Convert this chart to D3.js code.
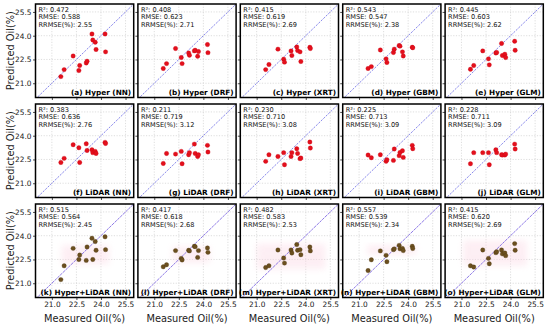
<!DOCTYPE html>
<html><head><meta charset="utf-8">
<script src="https://cdn.jsdelivr.net/npm/d3@7"></script>
<style>html,body{margin:0;padding:0;background:#fff;}svg{display:block;font-family:"DejaVu Sans",sans-serif;}</style>
</head><body><svg id="chart" width="550" height="327"></svg>
<script>
// ---- data ----
const measured = [21.55, 21.75, 22.3, 22.65, 22.7, 23.1, 23.15, 23.45, 23.5, 23.65, 23.7, 24.25, 24.28];
const titles = ["(a) Hyper (NN)","(b) Hyper (DRF)","(c) Hyper (XRT)","(d) Hyper (GBM)","(e) Hyper (GLM)",
  "(f) LiDAR (NN)","(g) LiDAR (DRF)","(h) LiDAR (XRT)","(i) LiDAR (GBM)","(j) LiDAR (GLM)",
  "(k) Hyper+LiDAR (NN)","(l) Hyper+LiDAR (DRF)","(m) Hyper+LiDAR (XRT)","(n) Hyper+LiDAR (GBM)","(o) Hyper+LiDAR (GLM)"];
const r2 = ["0.472","0.408","0.415","0.543","0.445","0.383","0.211","0.230","0.225","0.228","0.515","0.417","0.482","0.557","0.415"];
const rmse = ["0.588","0.623","0.619","0.547","0.603","0.636","0.719","0.710","0.713","0.711","0.564","0.618","0.583","0.539","0.620"];
const rrmse = ["2.55","2.71","2.69","2.38","2.62","2.76","3.12","3.08","3.09","3.09","2.45","2.68","2.53","2.34","2.69"];
const predHyperNN   = [21.42,21.86,22.72,21.80,22.12,22.28,22.39,24.11,23.73,23.59,23.13,24.11,22.98];
const predHyperDRF  = [21.93,22.24,23.19,22.62,22.24,22.91,22.77,23.04,23.08,22.70,23.00,23.44,22.93];
const predHyperXRT  = [21.86,22.18,23.15,22.52,22.33,23.04,22.75,23.29,23.06,22.98,22.37,23.27,23.19];
const predHyperGBM  = [21.93,22.05,23.10,22.54,22.31,22.94,23.15,23.38,23.34,22.98,22.72,23.27,23.24];
const predHyperGLM  = [21.88,22.12,23.04,22.54,22.16,22.91,22.94,23.51,22.75,22.83,22.62,23.65,23.08];
const predLidarNN   = [22.31,22.57,23.43,23.24,22.31,23.49,23.07,23.11,22.93,23.01,22.88,23.58,23.51];
const predLidarDRF  = [22.25,22.88,22.84,23.01,22.23,22.80,22.93,23.47,22.88,22.69,22.80,23.39,22.97];
const predLidarXRT  = [22.38,22.80,22.69,22.93,22.17,22.69,22.93,23.18,22.88,22.55,22.59,23.60,23.22];
const predLidarGBM  = [22.78,22.61,22.80,22.38,22.48,22.44,23.16,22.74,22.94,23.05,22.63,23.39,23.18];
const predLidarGLM  = [22.23,22.93,22.93,22.93,22.17,23.11,22.93,22.80,22.78,22.78,22.84,23.47,23.16];
const predFusionNN  = [21.23,22.10,23.20,22.50,22.78,22.44,23.29,23.84,22.50,23.63,23.08,23.93,23.12];
const predFusionDRF = [22.04,22.17,23.06,22.57,22.47,23.08,23.04,23.33,23.31,22.63,23.06,23.23,22.95];
const predFusionXRT = [21.99,22.10,23.10,22.59,22.27,23.10,22.91,23.44,23.08,23.12,22.80,23.29,23.04];
const predFusionGBM = [21.80,22.48,23.04,22.76,22.36,23.12,23.17,23.39,23.17,23.19,23.06,23.33,23.19];
const predFusionGLM = [22.10,22.02,23.10,22.57,22.23,22.93,22.99,23.10,22.85,22.91,22.74,23.50,23.08];
const predicted = [predHyperNN,predHyperDRF,predHyperXRT,predHyperGBM,predHyperGLM,
  predLidarNN,predLidarDRF,predLidarXRT,predLidarGBM,predLidarGLM,
  predFusionNN,predFusionDRF,predFusionXRT,predFusionGBM,predFusionGLM];
// faint shaded band in fusion panels: [x0, x1, yLow, yHigh] in Oil(%)
const fusionBand = [[21.6,24.5,22.2,23.4],[22.1,24.4,22.3,23.3],[21.0,25.2,21.9,23.5],[21.5,24.5,22.8,23.4],[21.1,25.0,22.1,23.7]];
const tickValues = [21.0, 22.5, 24.0, 25.5];
const axisDomainX = [20.0, 26.0];
const axisDomainY = [20.1, 26.0];

// ---- layout ----
const svg = d3.select("#chart");
const leftM = 35.5, topM = 4, pw = 98.2, ph = 93.5, gx = 4.2, gy = 6.5;
const x = d3.scaleLinear().domain(axisDomainX).range([0, pw]);
const y = d3.scaleLinear().domain(axisDomainY).range([ph, 0]);
const fmt = d3.format(".1f");

svg.append("defs").append("filter").attr("id","soft").attr("x","-30%").attr("y","-30%").attr("width","160%").attr("height","160%")
  .append("feGaussianBlur").attr("stdDeviation", 3);

predicted.forEach((pred, i) => {
  const row = Math.floor(i / 5), col = i % 5;
  const g = svg.append("g").attr("transform", `translate(${leftM + col*(pw+gx)},${topM + row*(ph+gy)})`);
  const clipId = "clip" + i;
  g.append("clipPath").attr("id", clipId).append("rect").attr("width", pw).attr("height", ph);
  // grid
  const grid = g.append("g");
  tickValues.forEach(t => {
    grid.append("line").attr("x1", x(t)).attr("x2", x(t)).attr("y1", 0).attr("y2", ph);
    grid.append("line").attr("y1", y(t)).attr("y2", y(t)).attr("x1", 0).attr("x2", pw);
  });
  grid.selectAll("line").attr("stroke", "#c8c8c8").attr("stroke-width", 0.6).attr("stroke-dasharray", "1.2,1.5");
  // axes ticks
  const ax = d3.axisBottom(x).tickValues(tickValues).tickSize(2.5).tickPadding(1.5).tickFormat(row === 2 ? fmt : "");
  const ay = d3.axisLeft(y).tickValues(tickValues).tickSize(2.5).tickPadding(1.5).tickFormat(col === 0 ? fmt : "");
  const gxA = g.append("g").attr("transform", `translate(0,${ph})`).call(ax);
  const gyA = g.append("g").call(ay);
  [gxA, gyA].forEach(a => {
    a.select(".domain").remove();
    a.selectAll("line").attr("stroke", "#000").attr("stroke-width", 0.7);
    a.selectAll("text").attr("font-size", 7.4).attr("fill", "#222").attr("font-family", "DejaVu Sans");
  });
  const inner = g.append("g").attr("clip-path", `url(#${clipId})`);
  if (row === 2) {
    const b = fusionBand[col];
    inner.append("rect").attr("x", x(b[0])).attr("width", x(b[1]) - x(b[0]))
      .attr("y", y(b[3])).attr("height", y(b[2]) - y(b[3]))
      .attr("fill", "#fbd6e3").attr("opacity", 0.4).attr("filter", "url(#soft)");
  }
  // 1:1 line
  inner.append("line")
    .attr("x1", x(axisDomainX[0])).attr("y1", y(axisDomainX[0]))
    .attr("x2", x(axisDomainX[1])).attr("y2", y(axisDomainX[1]))
    .attr("stroke", row === 2 ? "#7158e0" : "#6a6ae4").attr("stroke-width", 0.8)
    .attr("stroke-dasharray", row === 2 ? "3,0.8" : "2.2,1.2");
  // points
  inner.selectAll("circle").data(pred).join("circle")
    .attr("cx", (d, k) => x(measured[k])).attr("cy", d => y(d)).attr("r", 2.2)
    .attr("fill", row === 2 ? "#6b4f1f" : "#e3101c")
    .attr("stroke", row === 2 ? "#4a3512" : "#c80010").attr("stroke-width", 0.3);
  // stats
  const st = g.append("g").attr("font-size", 6.6).attr("fill", "#111");
  st.append("text").attr("x", 3).attr("y", 7.8).text(`R²: ${r2[i]}`);
  st.append("text").attr("x", 3).attr("y", 15.3).text(`RMSE: ${rmse[i]}`);
  st.append("text").attr("x", 3).attr("y", 22.8).text(`RRMSE(%): ${rrmse[i]}`);
  // title
  g.append("text").attr("x", pw - 2.5).attr("y", ph - 2.2).attr("text-anchor", "end")
    .attr("font-size", 7.3).attr("font-weight", "bold").attr("fill", "#000").text(titles[i]);
  // frame
  g.append("rect").attr("width", pw).attr("height", ph).attr("fill", "none")
    .attr("stroke", "#000").attr("stroke-width", 1.5);
  if (col === 0) {
    svg.append("text").attr("transform", `translate(13.5,${topM + row*(ph+gy) + ph/2}) rotate(-90)`)
      .attr("text-anchor", "middle").attr("font-size", 9.8).attr("fill", "#222").text("Predicted Oil(%)");
  }
  if (row === 2) {
    svg.append("text").attr("x", leftM + col*(pw+gx) + pw/2).attr("y", 321.5)
      .attr("text-anchor", "middle").attr("font-size", 9.8).attr("fill", "#222").text("Measured Oil(%)");
  }
});
</script></body></html>
